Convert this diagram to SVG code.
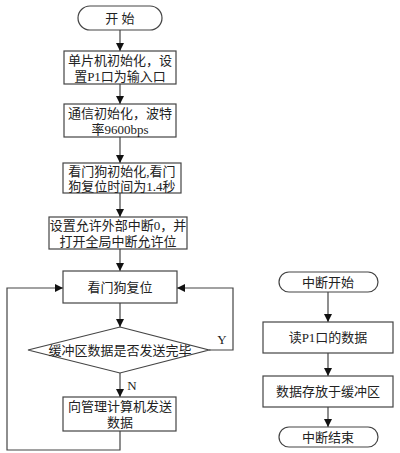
<svg xmlns="http://www.w3.org/2000/svg" width="400" height="453" viewBox="0 0 400 453">
<defs>
<style>
.n{fill:#fff;stroke:#444;stroke-width:1.2}
.c{fill:none;stroke:#444;stroke-width:1.2}
text{font-family:"Liberation Serif","Noto Sans CJK SC",serif;font-size:13px;fill:#222;text-anchor:middle;dominant-baseline:central}
</style>
<marker id="a" viewBox="0 0 10 10" refX="10" refY="5" markerWidth="8" markerHeight="8" markerUnits="userSpaceOnUse" orient="auto">
<path d="M0,0 L10,5 L0,10 Z" fill="#111"/>
</marker>
</defs>
<rect width="400" height="453" fill="#fff"/>
<g id="connectors">
<line class="c" x1="120" y1="30" x2="120" y2="51" marker-end="url(#a)"/>
<line class="c" x1="120" y1="84" x2="120" y2="104" marker-end="url(#a)"/>
<line class="c" x1="120" y1="137" x2="120" y2="163" marker-end="url(#a)"/>
<line class="c" x1="120" y1="193" x2="120" y2="217" marker-end="url(#a)"/>
<line class="c" x1="120" y1="249" x2="120" y2="271" marker-end="url(#a)"/>
<line class="c" x1="120" y1="303" x2="120" y2="327" marker-end="url(#a)"/>
<line class="c" x1="120" y1="373" x2="120" y2="397" marker-end="url(#a)"/>
<polyline class="c" points="209,350 233,350 233,288 177,288" marker-end="url(#a)"/>
<polyline class="c" points="120,431 120,450 7,450 7,288 63,288" marker-end="url(#a)"/>
<line class="c" x1="328" y1="292" x2="328" y2="322" marker-end="url(#a)"/>
<line class="c" x1="328" y1="353" x2="328" y2="376" marker-end="url(#a)"/>
<line class="c" x1="328" y1="407" x2="328" y2="427" marker-end="url(#a)"/>
<text x="222" y="339">Y</text>
<text x="132" y="385">N</text>
</g>
<g id="start"><rect class="n" x="78" y="6" width="84" height="24" rx="12"/><text x="120" y="18">开 始</text></g>
<g id="init-mcu"><rect class="n" x="64" y="51" width="112" height="33"/><text x="120" y="60">单片机初始化，设</text><text x="120" y="76">置P1口为输入口</text></g>
<g id="init-comm"><rect class="n" x="64" y="104" width="112" height="33"/><text x="120" y="113">通信初始化，波特</text><text x="120" y="129">率9600bps</text></g>
<g id="init-wdt"><rect class="n" x="63" y="163" width="118" height="30"/><text x="122" y="171">看门狗初始化,看门</text><text x="122" y="186">狗复位时间为1.4秒</text></g>
<g id="int-enable"><rect class="n" x="49" y="217" width="138" height="32"/><text x="118" y="225">设置允许外部中断0，并</text><text x="118" y="241">打开全局中断允许位</text></g>
<g id="wdt-reset"><rect class="n" x="63" y="271" width="114" height="32"/><text x="120" y="287">看门狗复位</text></g>
<g id="decision"><polygon class="n" points="120,327 209,350 120,373 28,350"/><text x="120" y="350">缓冲区数据是否发送完毕</text></g>
<g id="send"><rect class="n" x="63" y="397" width="113" height="34"/><text x="120" y="406">向管理计算机发送</text><text x="120" y="422">数据</text></g>
<g id="int-start"><rect class="n" x="279" y="272" width="99" height="20" rx="10"/><text x="328" y="282">中断开始</text></g>
<g id="read-p1"><rect class="n" x="263" y="322" width="130" height="31"/><text x="328" y="337">读P1口的数据</text></g>
<g id="store"><rect class="n" x="263" y="376" width="130" height="31"/><text x="328" y="391">数据存放于缓冲区</text></g>
<g id="int-end"><rect class="n" x="279" y="427" width="99" height="20" rx="10"/><text x="328" y="437">中断结束</text></g>
</svg>
